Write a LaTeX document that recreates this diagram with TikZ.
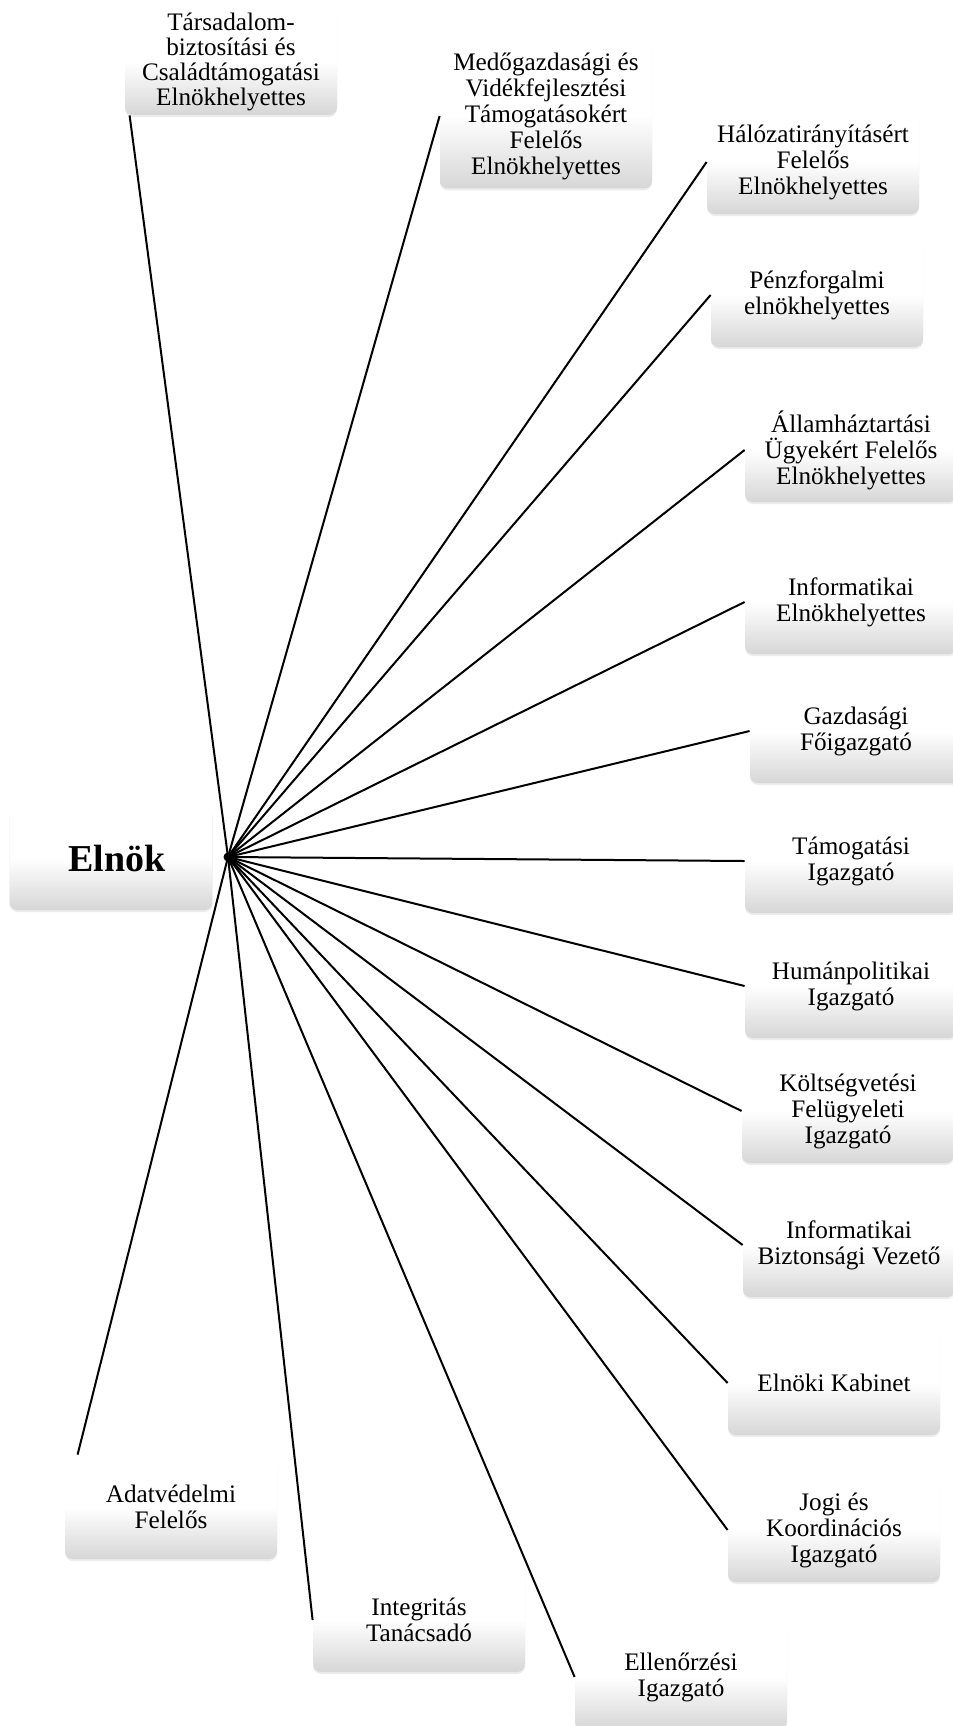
\documentclass[tikz,border=0pt]{standalone}
\usepackage{fontspec}
\setmainfont{Liberation Serif}
\usetikzlibrary{shadows,calc}
\begin{document}
\begin{tikzpicture}[x=0.5pt,y=-0.5pt,
  box/.style={rounded corners=4pt, top color=white, bottom color=black!16, middle color=white,
    minimum width=106pt, minimum height=52pt, align=center,
    inner xsep=3pt, inner ysep=4.5pt, font=\fontsize{12.6}{13}\selectfont,
    drop shadow={shadow xshift=0pt, shadow yshift=-1pt, opacity=0.15}},
  link/.style={line width=1pt, black}]
\useasboundingbox (0,0) rectangle (953,1726);
\fill[white] (0,0) rectangle (953,1726);
\clip (0,0) rectangle (953,1726);

\node[circle, fill=black, inner sep=0pt, minimum size=4.5pt] (hub) at (228,857) {};

\node[box, font=\fontsize{12.6}{12.5}\selectfont, inner ysep=2pt] (tb) at (231,62) {Társadalom-\\biztosítási és\\Családtámogatási\\Elnökhelyettes};
\node[box] (md) at (546,116) {Medőgazdasági és\\Vidékfejlesztési\\Támogatásokért\\Felelős\\Elnökhelyettes};
\node[box] (hn) at (813,162) {Hálózatirányításért\\Felelős\\Elnökhelyettes};
\node[box] (pf) at (817,295) {Pénzforgalmi\\elnökhelyettes};
\node[box] (ah) at (851,450) {Államháztartási\\Ügyekért Felelős\\Elnökhelyettes};
\node[box] (ie) at (851,602) {Informatikai\\Elnökhelyettes};
\node[box] (ga) at (856,731) {Gazdasági\\Főigazgató};
\node[box] (ta) at (851,861) {Támogatási\\Igazgató};
\node[box] (hu) at (851,986) {Humánpolitikai\\Igazgató};
\node[box] (ko) at (848,1111) {Költségvetési\\Felügyeleti\\Igazgató};
\node[box] (ib) at (849,1245) {Informatikai\\Biztonsági Vezető};
\node[box] (ek) at (834,1383) {Elnöki Kabinet};
\node[box] (jo) at (834,1530) {Jogi és\\Koordinációs\\Igazgató};
\node[box] (el) at (681,1677) {Ellenőrzési\\Igazgató};
\node[box] (it) at (419,1620) {Integritás\\Tanácsadó};
\node[box] (ad) at (171,1507) {Adatvédelmi\\Felelős};
\node[box, minimum width=101.5pt, minimum height=52pt, font=\fontsize{19}{21}\bfseries] (eln) at (111,858) {\hspace*{6pt}Elnök};

\draw[link] (hub.center) -- ([xshift=2.5pt]tb.south west);
\draw[link] (hub.center) -- (md.west);
\draw[link] (hub.center) -- (hn.west);
\draw[link] (hub.center) -- (pf.west);
\draw[link] (hub.center) -- (ah.west);
\draw[link] (hub.center) -- (ie.west);
\draw[link] (hub.center) -- (ga.west);
\draw[link] (hub.center) -- (ta.west);
\draw[link] (hub.center) -- (hu.west);
\draw[link] (hub.center) -- (ko.west);
\draw[link] (hub.center) -- (ib.west);
\draw[link] (hub.center) -- (ek.west);
\draw[link] (hub.center) -- (jo.west);
\draw[link] (hub.center) -- (el.west);
\draw[link] (hub.center) -- (it.west);
\draw[link] (hub.center) -- ([xshift=6.5pt]ad.north west);
\end{tikzpicture}
\end{document}
